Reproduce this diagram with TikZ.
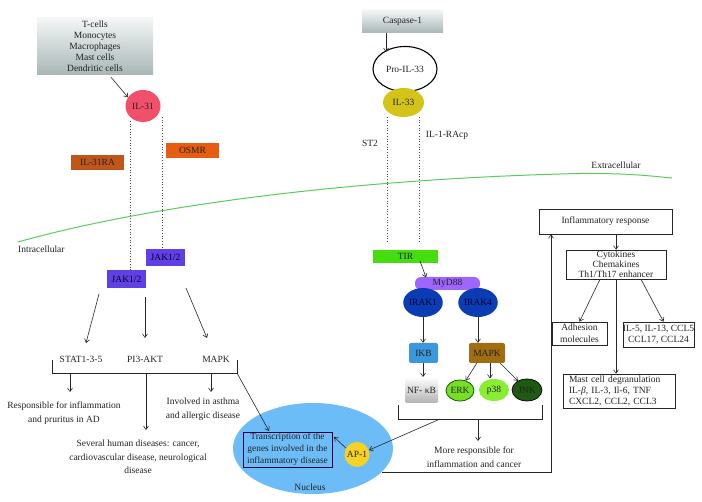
\documentclass[tikz,border=0pt]{standalone}
\usepackage{fontspec}
\setmainfont{Liberation Serif}
\usetikzlibrary{arrows.meta,calc,shapes.geometric}
\definecolor{cIL31}{HTML}{F2506A}
\definecolor{cRA}{HTML}{C0561A}
\definecolor{cOSMR}{HTML}{E65C10}
\definecolor{cJAK}{HTML}{6040E4}
\definecolor{cIL33}{HTML}{D4C41A}
\definecolor{cTIR}{HTML}{44DD10}
\definecolor{cMyD}{HTML}{A064FF}
\definecolor{cIRAK}{HTML}{0A3CB4}
\definecolor{cIKB}{HTML}{3C98DC}
\definecolor{cMAPK}{HTML}{A06E10}
\definecolor{cERK}{HTML}{77E022}
\definecolor{cP38}{HTML}{88EE33}
\definecolor{cJNK}{HTML}{1E5A14}
\definecolor{cNuc}{HTML}{6CBCF8}
\definecolor{cAP}{HTML}{F5D225}
\definecolor{cMem}{HTML}{5CCC5C}
\definecolor{cTxt}{HTML}{222222}
\definecolor{cGrTop}{HTML}{F4F6F6}
\definecolor{cGrBot}{HTML}{A8B6B6}
\tikzset{
  txt/.style={font=\fontsize{9.5}{13.5}\selectfont, text=cTxt, align=center, inner sep=0pt},
  lbl/.style={font=\fontsize{9.5}{11}\selectfont, text=cTxt, align=center, inner sep=0pt},
  arr/.style={draw=black!85, line width=0.6pt, -{Straight Barb[length=3.5pt,width=5pt]}},
  ln/.style={draw=black!85, line width=0.6pt},
  dots/.style={draw=black!70, line width=0.7pt, dotted},
  gradbox/.style={rectangle, top color=cGrTop, bottom color=cGrBot, draw=none, inner sep=0pt},
  recbox/.style={rectangle, draw=none, inner sep=0pt},
  ell/.style={ellipse, inner sep=0pt},
  wbox/.style={rectangle, draw=black!85, line width=0.6pt, fill=white, inner sep=0pt, font=\fontsize{9.5}{11}\selectfont, text=cTxt, align=center}
}
\begin{document}
\begin{tikzpicture}[x=1pt,y=-1pt]
\useasboundingbox (0,0) rectangle (702,502);
\fill[white] (0,0) rectangle (702,502);

% membrane
\draw[cMem, line width=1pt] (18,242) .. controls (150,205) and (350,180) .. (560,174) .. controls (620,172) and (650,176) .. (672,178);
\node[txt, anchor=west] (intra) at (18,249) {Intracellular};
\node[txt] (extra) at (616,165) {Extracellular};

% ---------------- IL-31 branch ----------------
\node[gradbox, minimum width=116pt, minimum height=57pt, lbl, text=cTxt] (cells) at (95,46.5)
  {T-cells\\Monocytes\\Macrophages\\Mast cells\\Dendritic cells};
\node[ell, fill=cIL31, minimum width=35pt, minimum height=32pt, lbl] (IL31) at (143,106) {IL-31};
\draw[arr] ($(cells.south)+(16,2)$) -- (IL31.150);

\node[recbox, fill=cRA, minimum width=53pt, minimum height=15pt, lbl] (IL31RA) at (97.5,162.5) {IL-31RA};
\node[recbox, fill=cOSMR, minimum width=53pt, minimum height=15pt, lbl] (OSMR) at (192.5,150.5) {OSMR};

\node[recbox, fill=cJAK, minimum width=39pt, minimum height=17pt, lbl, text=black!85!blue] (JAKup) at (165.5,257.5) {JAK1/2};
\node[recbox, fill=cJAK, minimum width=39pt, minimum height=18pt, lbl, text=black!85!blue] (JAKlo) at (126.5,279) {JAK1/2};

\coordinate (d1a) at (130,121);
\coordinate (d2a) at (162,117);
\draw[dots] (d1a) -- (d1a |- JAKlo.north);
\draw[dots] (d2a) -- (d2a |- JAKup.north);

\node[txt] (stat) at (81,359) {STAT1-3-5};
\node[txt] (pi3) at (145,359) {PI3-AKT};
\node[txt] (mapk1) at (216,359) {MAPK};
\coordinate (j1) at (99,294);
\coordinate (j2) at (145,297);
\coordinate (j3) at (186,288);
\draw[arr] (j1) -- (86,343);
\draw[arr] (j2) -- (145,338);
\draw[arr] (j3) -- (207,338);

\coordinate (bl) at (52,373);
\coordinate (br) at (237,373);
\draw[ln] (52,360) -- (bl) -- (br) -- (237,360);

\node[txt] (resp) at (64,413) {Responsible for inflammation\\and pruritus in AD};
\node[txt] (asth) at (203,409) {Involved in asthma\\and allergic disease};
\node[txt] (sev) at (138,457) {Several human diseases: cancer,\\cardiovascular disease, neurological\\disease};
\draw[arr] (70,373) -- (70,392);
\draw[arr] (146,373) -- (146,430);
\draw[arr] (211,373) -- (211,392);

% ---------------- Nucleus ----------------
\node[ell, fill=cNuc, minimum width=160pt, minimum height=91pt] (nuc) at (313,448.5) {};
\node[txt] (nuctxt) at (310,487) {Nucleus};
\node[rectangle, draw=black!75!blue, line width=0.9pt, inner sep=0pt, minimum width=89pt, minimum height=35pt,
      font=\fontsize{9.4}{12}\selectfont, text=cTxt, align=center] (trans) at (287.5,449.5)
  {Transcription of the\\genes involved in the\\inflammatory disease};
\node[circle, fill=cAP, minimum size=25pt, inner sep=0pt, lbl] (AP1) at (357,454.5) {AP-1};
\draw[arr] (br) -- (269,431);
\draw[arr] (AP1.150) -- (334,437);

% ---------------- IL-33 branch ----------------
\node[gradbox, minimum width=81pt, minimum height=23pt, lbl] (casp) at (402.5,21.5) {Caspase-1};
\node[ell, draw=black, line width=1.1pt, fill=white, minimum width=64pt, minimum height=45pt, lbl] (pro) at (405,69) {Pro-IL-33};
\node[ell, fill=cIL33, minimum width=41pt, minimum height=29pt, lbl] (IL33) at (403.5,102.5) {IL-33};
\draw[arr] (casp.south -| 386,0) -- (386,52);

\node[txt] (st2) at (370,143) {ST2};
\node[txt] (racp) at (447,135) {IL-1-RAcp};

\node[recbox, fill=cTIR, minimum width=65pt, minimum height=13pt, lbl] (TIR) at (405.5,256.5) {TIR};
\coordinate (d3a) at (387,117);
\coordinate (d4a) at (419,117);
\draw[dots] (d3a) -- (387,242);
\draw[dots] (d4a) -- (419,242);

\node[rectangle, rounded corners=6pt, fill=cMyD, minimum width=65pt, minimum height=13pt, lbl] (myd) at (447.5,283.5) {MyD88};
\draw[arr] (420,261) -- (426,277.5);
\node[ell, fill=cIRAK, minimum width=32pt, minimum height=29pt, lbl, text=black!80!blue] (IRAK1) at (423,302.5) {IRAK1};
\node[ell, fill=cIRAK, minimum width=32pt, minimum height=29pt, lbl, text=black!80!blue] (IRAK4) at (478,302.5) {IRAK4};

\node[rectangle, rounded corners=2pt, fill=cIKB, minimum width=29pt, minimum height=20pt, lbl] (IKB) at (423.5,353) {IKB};
\node[rectangle, rounded corners=2pt, fill=cMAPK, minimum width=36pt, minimum height=20pt, lbl] (MAPK2) at (487,353) {MAPK};
\draw[arr] (IRAK1.south) -- (IRAK1.south |- IKB.north);
\draw[arr] (IRAK4.south) -- (IRAK4.south |- MAPK2.north);

\node[rectangle, rounded corners=2pt, top color=white, bottom color=black!30, minimum width=33pt, minimum height=26pt, lbl] (NFKB) at (421.5,390) {NF- κB};
\draw[arr] (IKB.south -| 423,0) -- (423,377);

\node[ell, draw=black!70!green, line width=0.7pt, fill=cERK, minimum width=28pt, minimum height=21pt, lbl] (ERK) at (460,390.5) {ERK};
\node[ell, fill=cP38, minimum width=30pt, minimum height=22pt, lbl] (p38) at (494,390) {p38};
\node[ell, draw=black, line width=0.7pt, fill=cJNK, minimum width=30pt, minimum height=22pt, lbl] (JNK) at (527,390) {JNK};
\draw[arr] ($(MAPK2.south west)+(8,0)$) -- (ERK.60);
\draw[arr] (MAPK2.south -| 490,0) -- (490,378.5);
\draw[arr] ($(MAPK2.south east)+(-5,0)$) -- (JNK.135);

\coordinate (nbl) at (398,419);
\coordinate (nbr) at (542,419);
\draw[ln] (398,405) -- (nbl) -- (nbr) -- (542,405);
\draw[arr] (440,419) -- (AP1.20);
\draw[arr] (478,419) -- (478,441);
\node[txt] (more) at (474,457) {More responsible for\\inflammation and cancer};

% ---------------- Right panel ----------------
\node[wbox, minimum width=133pt, minimum height=25pt] (inflam) at (605.5,221.5) {Inflammatory response};
\node[wbox, minimum width=100pt, minimum height=29pt, font=\fontsize{9.5}{10}\selectfont] (cyto) at (616,264.5) {Cytokines\\Chemakines\\Th1/Th17 enhancer};
\node[wbox, minimum width=55pt, minimum height=23pt, font=\fontsize{9.5}{11.5}\selectfont] (adh) at (579.5,333.5) {Adhesion\\molecules};
\node[wbox, minimum width=71pt, minimum height=25pt, font=\fontsize{9.5}{11.5}\selectfont] (il5) at (658.5,334.5) {IL-5, IL-13, CCL5\\CCL17, CCL24};
\node[wbox, minimum width=112pt, minimum height=34pt, align=left, text width=100pt, font=\fontsize{9.5}{11}\selectfont] (mast) at (619,391)
  {Mast cell degranulation\\IL-\textit{β}, IL-3, Il-6, TNF\\CXCL2, CCL2, CCL3};

\draw[arr] (cyto.north |- inflam.south) -- (cyto.north);
\draw[arr] (cyto.south -| 600,0) -- (adh.north);
\draw[arr] (cyto.south -| 641,0) -- ($(il5.north)+(5,0)$);
\draw[arr] (cyto.south) -- (cyto.south |- mast.north);

\coordinate (fb0) at (381.5,472);
\coordinate (fbx) at (551,472);
\draw[arr] (fb0) -- (fbx) -- (fbx |- inflam.south);
\end{tikzpicture}
\end{document}
